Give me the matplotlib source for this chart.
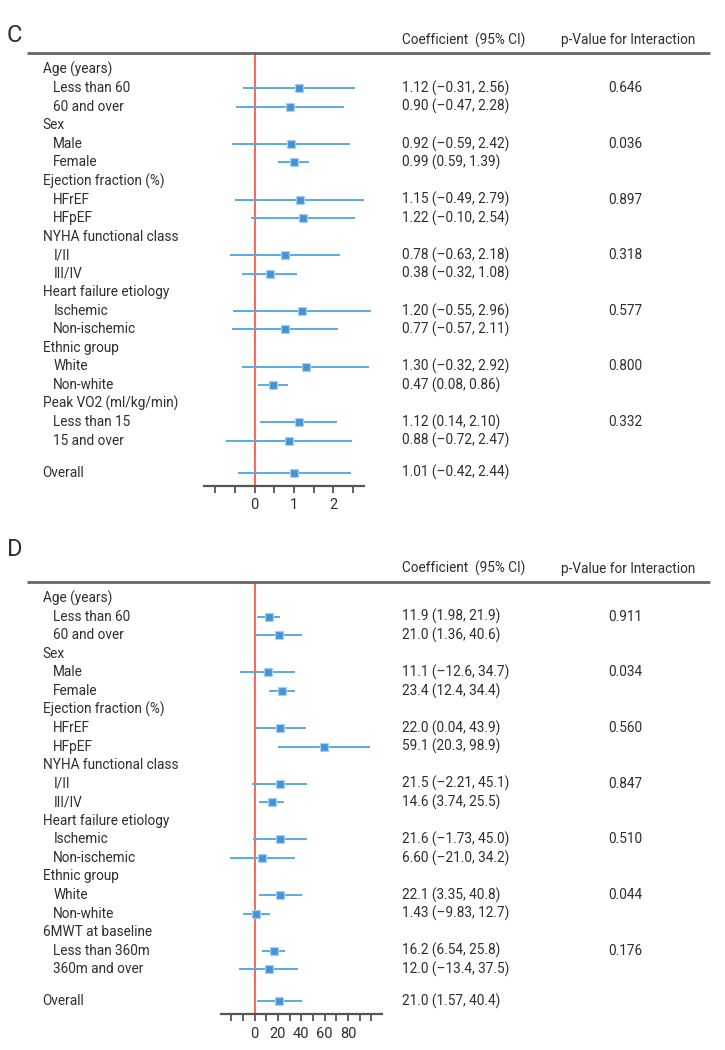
import matplotlib
matplotlib.use('Agg')
import matplotlib.pyplot as plt
from matplotlib.transforms import blended_transform_factory

plt.rcParams['font.family'] = ['Roboto', 'DejaVu Sans']

# ---------------- data ----------------
group_names_c = ["Age (years)", "Sex", "Ejection fraction (%)", "NYHA functional class",
                 "Heart failure etiology", "Ethnic group", "Peak VO2 (ml/kg/min)"]
sub_names_c = ["Less than 60", "60 and over", "Male", "Female", "HFrEF", "HFpEF",
               "I/II", "III/IV", "Ischemic", "Non-ischemic", "White", "Non-white",
               "Less than 15", "15 and over"]
est_c = [1.12, 0.90, 0.92, 0.99, 1.15, 1.22, 0.78, 0.38, 1.20, 0.77, 1.30, 0.47, 1.12, 0.88]
lo_c = [-0.31, -0.47, -0.59, 0.59, -0.49, -0.10, -0.63, -0.32, -0.55, -0.57, -0.32, 0.08, 0.14, -0.72]
hi_c = [2.56, 2.28, 2.42, 1.39, 2.79, 2.54, 2.18, 1.08, 2.96, 2.11, 2.92, 0.86, 2.10, 2.47]
ci_text_c = ["1.12 (–0.31, 2.56)", "0.90 (–0.47, 2.28)", "0.92 (–0.59, 2.42)", "0.99 (0.59, 1.39)",
             "1.15 (–0.49, 2.79)", "1.22 (–0.10, 2.54)", "0.78 (–0.63, 2.18)", "0.38 (–0.32, 1.08)",
             "1.20 (–0.55, 2.96)", "0.77 (–0.57, 2.11)", "1.30 (–0.32, 2.92)", "0.47 (0.08, 0.86)",
             "1.12 (0.14, 2.10)", "0.88 (–0.72, 2.47)"]
pval_c = ["0.646", "0.036", "0.897", "0.318", "0.577", "0.800", "0.332"]
overall_c = 1.01
overall_lo_c = -0.42
overall_hi_c = 2.44
overall_text_c = "1.01 (–0.42, 2.44)"
ticks_c = [-1, -0.5, 0, 0.5, 1, 1.5, 2, 2.5]
ticklabels_c = ["", "", "0", "", "1", "", "2", ""]

group_names_d = ["Age (years)", "Sex", "Ejection fraction (%)", "NYHA functional class",
                 "Heart failure etiology", "Ethnic group", "6MWT at baseline"]
sub_names_d = ["Less than 60", "60 and over", "Male", "Female", "HFrEF", "HFpEF",
               "I/II", "III/IV", "Ischemic", "Non-ischemic", "White", "Non-white",
               "Less than 360m", "360m and over"]
est_d = [11.9, 21.0, 11.1, 23.4, 22.0, 59.1, 21.5, 14.6, 21.6, 6.60, 22.1, 1.43, 16.2, 12.0]
lo_d = [1.98, 1.36, -12.6, 12.4, 0.04, 20.3, -2.21, 3.74, -1.73, -21.0, 3.35, -9.83, 6.54, -13.4]
hi_d = [21.9, 40.6, 34.7, 34.4, 43.9, 98.9, 45.1, 25.5, 45.0, 34.2, 40.8, 12.7, 25.8, 37.5]
ci_text_d = ["11.9 (1.98, 21.9)", "21.0 (1.36, 40.6)", "11.1 (–12.6, 34.7)", "23.4 (12.4, 34.4)",
             "22.0 (0.04, 43.9)", "59.1 (20.3, 98.9)", "21.5 (–2.21, 45.1)", "14.6 (3.74, 25.5)",
             "21.6 (–1.73, 45.0)", "6.60 (–21.0, 34.2)", "22.1 (3.35, 40.8)", "1.43 (–9.83, 12.7)",
             "16.2 (6.54, 25.8)", "12.0 (–13.4, 37.5)"]
pval_d = ["0.911", "0.034", "0.560", "0.847", "0.510", "0.044", "0.176"]
overall_d = 21.0
overall_lo_d = 1.57
overall_hi_d = 40.4
overall_text_d = "21.0 (1.57, 40.4)"
ticks_d = [-20, -10, 0, 10, 20, 30, 40, 50, 60, 70, 80, 90, 100]
ticklabels_d = ["", "", "0", "", "20", "", "40", "", "60", "", "80", "", ""]

header_coef = "Coefficient  (95% CI)"
header_p = "p-Value for Interaction"

# ---------------- style ----------------
W, H = 725, 1050
TXT = '#2e2e2e'
LINE = '#5aaae0'
SQ = '#4393d6'
HALO = '#a9d0f0'
RED = '#f26d5b'
GRAY = '#666666'
FS = 9.8
ROW = 18.55

fig = plt.figure(figsize=(W / 100, H / 100), dpi=100)


def panel(letter, letter_y, base, xl, xr, zero_px, ppu, groups, subs, est, lo, hi, cis, pv,
          ov, ovlo, ovhi, ovtext, ticks, ticklabels):
    k_top, k_bot = -0.88, 22.42
    ytop = base + ROW * k_top
    ybot = base + ROW * k_bot
    ax = fig.add_axes([xl / W, 1 - ybot / H, (xr - xl) / W, (ybot - ytop) / H])
    ax.set_ylim(k_bot, k_top)
    ax.set_xlim((xl - zero_px) / ppu, (xr - zero_px) / ppu)
    for s in ['top', 'left', 'right']:
        ax.spines[s].set_visible(False)
    ax.spines['bottom'].set_color('#555555')
    ax.spines['bottom'].set_linewidth(1.6)
    ax.set_yticks([])
    ax.set_xticks(ticks)
    ax.set_xticklabels(ticklabels)
    ax.tick_params(axis='x', direction='out', length=5, width=1.3, color='#555555',
                   labelsize=10.5, labelcolor=TXT, pad=4)
    ax.patch.set_alpha(0)
    ax.axvline(0, color=RED, lw=1.5, zorder=1)

    tr = blended_transform_factory(fig.transFigure, ax.transData)
    # top rule
    ax.plot([26.7 / W, 710 / W], [k_top, k_top], transform=tr, color=GRAY, lw=2,
            clip_on=False, solid_capstyle='butt')
    fig.text(7 / W, 1 - letter_y / H, letter, fontsize=17, color=TXT, va='center', ha='left')
    ax.text(401.7 / W, -1.6, header_coef, transform=tr, fontsize=FS, color=TXT, va='center')
    ax.text(628 / W, -1.6, header_p, transform=tr, fontsize=FS, color=TXT, va='center', ha='center')

    for g, name in enumerate(groups):
        kg = 3 * g
        ax.text(42.7 / W, kg, name, transform=tr, fontsize=FS, color=TXT, va='center')
        ax.text(625 / W, kg + 1, pv[g], transform=tr, fontsize=FS, color=TXT, va='center',
                ha='center')
        for j in range(2):
            i = 2 * g + j
            k = kg + 1 + j
            ax.text(53.3 / W, k, subs[i], transform=tr, fontsize=FS, color=TXT, va='center')
            ax.text(401.7 / W, k, cis[i], transform=tr, fontsize=FS, color=TXT, va='center')
            ax.plot([lo[i], hi[i]], [k, k], color=LINE, lw=1.4, clip_on=False, zorder=2,
                    solid_capstyle='butt')
            ax.plot([est[i]], [k], marker='s', ms=5.2, mfc=SQ, mec=HALO, mew=0.9,
                    clip_on=False, zorder=3)
    ko = 21.72
    ax.text(42.7 / W, ko, "Overall", transform=tr, fontsize=FS, color=TXT, va='center')
    ax.text(401.7 / W, ko, ovtext, transform=tr, fontsize=FS, color=TXT, va='center')
    ax.plot([ovlo, ovhi], [ko, ko], color=LINE, lw=1.4, clip_on=False, zorder=2,
            solid_capstyle='butt')
    ax.plot([ov], [ko], marker='s', ms=5.2, mfc=SQ, mec=HALO, mew=0.9, clip_on=False, zorder=3)
    return ax


panel("C", 35, 69.7, 204.3, 364.0, 254.7, 39.3, group_names_c, sub_names_c, est_c, lo_c, hi_c,
      ci_text_c, pval_c, overall_c, overall_lo_c, overall_hi_c, overall_text_c, ticks_c,
      ticklabels_c)
panel("D", 549, 598.2, 220.7, 381.7, 254.7, 1.1667, group_names_d, sub_names_d, est_d, lo_d,
      hi_d, ci_text_d, pval_d, overall_d, overall_lo_d, overall_hi_d, overall_text_d, ticks_d,
      ticklabels_d)

fig.savefig('out.png', dpi=100, facecolor='white')
